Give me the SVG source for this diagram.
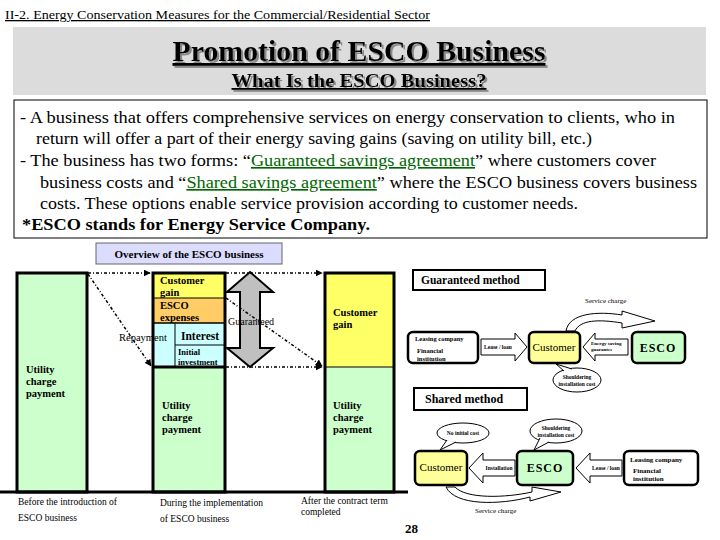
<svg xmlns="http://www.w3.org/2000/svg" width="720" height="540" viewBox="0 0 720 540">
<style>
.s{font-family:"Liberation Serif","Times New Roman",serif;fill:#000}
.b{font-weight:bold}
.thick{stroke:#000;stroke-width:3}
.box{fill:#fff;stroke:#000;stroke-width:2}
.rbox{stroke:#000;stroke-width:2.5}
.ha{fill:#fff;stroke:#000;stroke-width:1}
.dot{fill:none;stroke:#000;stroke-width:1.5;stroke-dasharray:3 2 1 2}
.lnk{fill:#006600;text-decoration:underline}
.tiny{font-size:5.5px;font-weight:bold}
</style>
<defs>
<marker id="ah" viewBox="0 0 10 10" refX="9" refY="5" markerWidth="7" markerHeight="7" orient="auto" markerUnits="userSpaceOnUse">
<path d="M0,0 L10,5 L0,10 z" fill="#000"/>
</marker>
<filter id="sh" x="-5%" y="-20%" width="110%" height="150%">
<feDropShadow dx="2" dy="2" stdDeviation="0.6" flood-color="#888"/>
</filter>
</defs>
<rect width="720" height="540" fill="#fff"/>

<g id="header">
<text class="s" x="5" y="19" font-size="13" textLength="425" lengthAdjust="spacingAndGlyphs" text-decoration="underline">II-2. Energy Conservation Measures for the Commercial/Residential Sector</text>
</g>

<g id="banner">
<rect x="13" y="27" width="693" height="68" fill="#dcdcdc"/>
<text class="s b" x="359" y="61" font-size="29" text-anchor="middle" textLength="373" lengthAdjust="spacingAndGlyphs" text-decoration="underline" filter="url(#sh)">Promotion of ESCO Business</text>
<text class="s b" x="359" y="87" font-size="18" text-anchor="middle" textLength="255" lengthAdjust="spacingAndGlyphs" text-decoration="underline" filter="url(#sh)">What Is the ESCO Business?</text>
</g>

<g id="description">
<rect x="14" y="100" width="693" height="138" fill="#fff" stroke="#000" stroke-width="1"/>
<text class="s" x="20" y="123" font-size="16.5" textLength="655" lengthAdjust="spacingAndGlyphs">- A business that offers comprehensive services on energy conservation to clients, who in</text>
<text class="s" x="36" y="144" font-size="16.5" textLength="556" lengthAdjust="spacingAndGlyphs">return will offer a part of their energy saving gains (saving on utility bill, etc.)</text>
<text class="s" x="20" y="166" font-size="16.5" textLength="636" lengthAdjust="spacingAndGlyphs">- The business has two forms: “<tspan class="lnk">Guaranteed savings agreement</tspan>” where customers cover</text>
<text class="s" x="40" y="188" font-size="16.5" textLength="657" lengthAdjust="spacingAndGlyphs">business costs and “<tspan class="lnk">Shared savings agreement</tspan>” where the ESCO business covers business</text>
<text class="s" x="40" y="209" font-size="16.5" textLength="538" lengthAdjust="spacingAndGlyphs">costs. These options enable service provision according to customer needs.</text>
<text class="s b" x="22" y="230" font-size="16.5" textLength="348" lengthAdjust="spacingAndGlyphs">*ESCO stands for Energy Service Company.</text>
</g>

<g id="overview-title">
<rect x="96" y="243" width="186" height="21" fill="#dcdcff" stroke="#666" stroke-width="1"/>
<text class="s b" x="189" y="258" font-size="11" text-anchor="middle">Overview of the ESCO business</text>
</g>

<g id="bar-before">
<rect x="17" y="273" width="70" height="219" fill="#ccffcc" class="thick"/>
<text class="s b" font-size="10.5"><tspan x="26" y="373">Utility</tspan><tspan x="26" y="385">charge</tspan><tspan x="26" y="397">payment</tspan></text>
</g>

<g id="bar-during">
<rect x="153" y="273" width="72" height="25" fill="#ffff66"/>
<rect x="153" y="298" width="72" height="25" fill="#ffcc66"/>
<rect x="153" y="323" width="72" height="44" fill="#ccffff"/>
<rect x="153" y="367" width="72" height="125" fill="#ccffcc"/>
<line x1="153" y1="298" x2="225" y2="298" stroke="#000" stroke-width="1"/>
<line x1="153" y1="323" x2="225" y2="323" stroke="#000" stroke-width="1.5"/>
<line x1="175" y1="323" x2="175" y2="367" stroke="#000" stroke-width="1"/>
<line x1="175" y1="345" x2="225" y2="345" stroke="#000" stroke-width="1"/>
<line x1="153" y1="367" x2="225" y2="367" stroke="#000" stroke-width="3"/>
<rect x="153" y="273" width="72" height="219" fill="none" class="thick"/>
<text class="s b" font-size="10.5"><tspan x="160" y="284">Customer</tspan><tspan x="160" y="296">gain</tspan></text>
<text class="s b" font-size="10.5"><tspan x="160" y="309">ESCO</tspan><tspan x="160" y="321">expenses</tspan></text>
<text class="s b" x="181" y="340" font-size="11.5">Interest</text>
<text class="s b" font-size="8.5"><tspan x="178" y="355">Initial</tspan><tspan x="178" y="365">investment</tspan></text>
<text class="s b" font-size="10.5"><tspan x="162" y="409">Utility</tspan><tspan x="162" y="421">charge</tspan><tspan x="162" y="433">payment</tspan></text>
</g>

<g id="bar-after">
<rect x="325" y="273" width="69" height="94" fill="#ffff66"/>
<rect x="325" y="367" width="69" height="125" fill="#ccffcc"/>
<line x1="325" y1="367" x2="394" y2="367" stroke="#000" stroke-width="1"/>
<rect x="325" y="273" width="69" height="219" fill="none" class="thick"/>
<text class="s b" font-size="10.5"><tspan x="333" y="316">Customer</tspan><tspan x="333" y="328">gain</tspan></text>
<text class="s b" font-size="10.5"><tspan x="333" y="409">Utility</tspan><tspan x="333" y="421">charge</tspan><tspan x="333" y="433">payment</tspan></text>
</g>

<g id="guaranteed-arrow">
<polygon points="250,272 273,292 260,292 260,348 273,348 250,367 227,348 240,348 240,292 227,292" fill="#c0c0c0" stroke="#000" stroke-width="2"/>
</g>

<g id="connectors">
<line class="dot" x1="88" y1="273" x2="150" y2="273" marker-end="url(#ah)"/>
<line class="dot" x1="88" y1="274" x2="151" y2="366" marker-end="url(#ah)"/>
<line class="dot" x1="226" y1="273" x2="322" y2="273" marker-end="url(#ah)"/>
<line class="dot" x1="226" y1="298" x2="322" y2="366" marker-end="url(#ah)"/>
<line class="dot" x1="226" y1="367" x2="322" y2="367" marker-end="url(#ah)"/>
</g>

<g id="chart-labels">
<text class="s" x="119" y="341" font-size="10.5">Repayment</text>
<text class="s" x="228" y="325" font-size="10">Guaranteed</text>
</g>

<g id="baseline">
<line x1="0" y1="492" x2="408" y2="492" stroke="#000" stroke-width="3"/>
<text class="s" font-size="9.5"><tspan x="18" y="505">Before the introduction of</tspan><tspan x="18" y="521">ESCO business</tspan></text>
<text class="s" font-size="9.5"><tspan x="160" y="506">During the implementation</tspan><tspan x="160" y="522">of ESCO business</tspan></text>
<text class="s" font-size="9.5"><tspan x="301" y="504">After the contract term</tspan><tspan x="301" y="515">completed</tspan></text>
</g>

<g id="guaranteed-method">
<rect class="box" x="413" y="270" width="132" height="20"/>
<text class="s b" x="421" y="284" font-size="11.5">Guaranteed method</text>
<text class="s" x="585" y="303" font-size="7">Service charge</text>
<path class="ha" d="M566 331 C569 313,598 311,622 315 L622 311 L655 321 L622 328 L622 323 C598 319,580 320,575 331 Z"/>
<rect class="rbox" x="408" y="332" width="70" height="31" rx="5" fill="#fff"/>
<text class="s b" font-size="6.5"><tspan x="415" y="341">Leasing company</tspan><tspan x="417" y="353">Financial</tspan><tspan x="417" y="360.5">institution</tspan></text>
<polygon class="ha" points="481,339 515,339 515,333 527,347 515,361 515,355 481,355"/>
<text class="s tiny" x="498" y="349" text-anchor="middle">Lease / loan</text>
<rect class="rbox" x="529" y="332" width="51" height="31" rx="5" fill="#ffff99"/>
<text class="s" x="554" y="351" font-size="11" text-anchor="middle">Customer</text>
<polygon class="ha" points="628,339 595,339 595,333 583,347 595,361 595,355 628,355"/>
<text class="s" font-size="5" font-weight="bold"><tspan x="591" y="345">Energy saving</tspan><tspan x="591" y="350.8">guarantee</tspan></text>
<rect class="rbox" x="632" y="332" width="53" height="31" rx="5" fill="#ccffcc"/>
<text class="s b" x="658" y="352" font-size="12" text-anchor="middle" letter-spacing="1">ESCO</text>
<ellipse cx="577" cy="380" rx="24" ry="12" fill="#fff" stroke="#000" stroke-width="1"/>
<path d="M564 371 L556 364 L572 369" fill="#fff" stroke="#000" stroke-width="1"/>
<text class="s tiny" text-anchor="middle"><tspan x="577" y="378.5">Shouldering</tspan><tspan x="577" y="385.5">installation cost</tspan></text>
</g>

<g id="shared-method">
<rect class="box" x="414" y="388" width="113" height="22"/>
<text class="s b" x="425" y="403" font-size="12">Shared method</text>
<ellipse cx="463" cy="433" rx="26" ry="10" fill="#fff" stroke="#000" stroke-width="1"/>
<path d="M447 440 L440 450 L456 442" fill="#fff" stroke="#000" stroke-width="1"/>
<text class="s tiny" x="463" y="435" text-anchor="middle">No initial cost</text>
<ellipse cx="556" cy="431" rx="26" ry="12" fill="#fff" stroke="#000" stroke-width="1"/>
<path d="M540 438 L534 450 L549 442" fill="#fff" stroke="#000" stroke-width="1"/>
<text class="s tiny" text-anchor="middle"><tspan x="556" y="429.5">Shouldering</tspan><tspan x="556" y="436.5">installation cost</tspan></text>
<rect class="rbox" x="415" y="451" width="52" height="34" rx="5" fill="#ffff99"/>
<text class="s" x="441" y="471" font-size="11" text-anchor="middle">Customer</text>
<polygon class="ha" points="515,460 483,460 483,453 469,468 483,483 483,476 515,476"/>
<text class="s tiny" x="499" y="470" text-anchor="middle">Installation</text>
<rect class="rbox" x="517" y="451" width="56" height="34" rx="5" fill="#ccffcc"/>
<text class="s b" x="545" y="472" font-size="12" text-anchor="middle" letter-spacing="1">ESCO</text>
<polygon class="ha" points="622,460 590,460 590,453 576,468 590,483 590,476 622,476"/>
<text class="s tiny" x="606" y="470" text-anchor="middle">Lease / loan</text>
<rect class="rbox" x="624" y="451" width="74" height="34" rx="5" fill="#fff"/>
<text class="s b" font-size="7"><tspan x="630" y="462">Leasing company</tspan><tspan x="633" y="473">Financial</tspan><tspan x="633" y="481">institution</tspan></text>
<path class="ha" d="M446 487 C455 506,500 505,530 497 L530 501 L561 492 L532 487 L532 492 C505 498,466 499,455 487 Z"/>
<text class="s" x="475" y="513" font-size="7">Service charge</text>
</g>

<g id="page-number">
<text class="s b" x="405" y="533" font-size="13">28</text>
</g>
</svg>
